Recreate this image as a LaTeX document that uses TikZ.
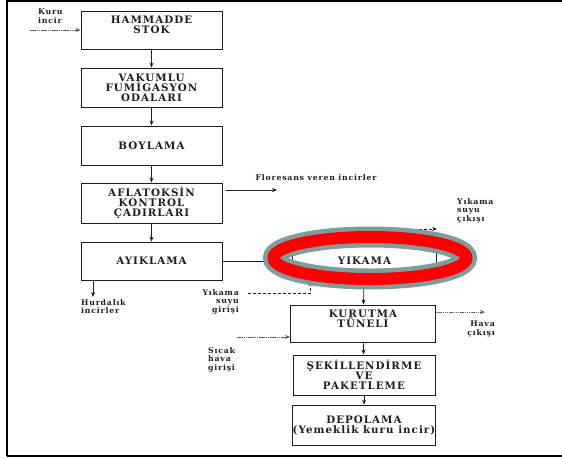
\documentclass[tikz,border=0pt]{standalone}
\usepackage{fontspec}
\newfontfamily\dvs{DejaVu Serif}[LetterSpace=10]
\newfontfamily\dvl{DejaVu Serif}[LetterSpace=10]
\usetikzlibrary{arrows.meta,calc}
\definecolor{ringgray}{RGB}{128,157,157}
\definecolor{ringred}{RGB}{255,0,0}
\definecolor{ink}{RGB}{30,30,30}
\begin{document}
\begin{tikzpicture}[x=1pt,y=-1pt,
  box/.style={draw=ink, line width=0.9pt, inner sep=0pt, align=center, text=ink,
    font=\dvs\bfseries\fontsize{10.3}{10}\selectfont},
  lbl/.style={inner sep=0pt, text=ink, font=\dvl\bfseries\fontsize{7.8}{8.7}\selectfont},
  arr/.style={-{Stealth[length=5pt,width=4pt]}, line width=0.7pt, draw=ink},
  dasharr/.style={arr, dash pattern=on 3pt off 2pt},
  fainarr/.style={-{Stealth[length=5pt,width=4pt]}, line width=0.6pt, draw=ink!70, dash pattern=on 1.5pt off 0.7pt}
]
\useasboundingbox (0,0) rectangle (562,458);
% frame
\draw[line width=2pt] (7.3,456) -- (7.3,1.2) -- (562,1.2);
\draw[line width=2pt] (7.3,456) -- (562,456);

% left column
\node[box, minimum width=141pt, minimum height=38pt] (b1) at (151.5,30) {HAMMADDE\\STOK\\\mbox{}};
\node[box, minimum width=141pt, minimum height=39pt] (b2) at (151.5,87.5) {VAKUMLU\\FUMİGASYON\\ODALARI};
\node[box, minimum width=141pt, minimum height=39pt] (b3) at (151.5,145.5) {BOYLAMA};
\node[box, minimum width=141pt, minimum height=40pt] (b4) at (151.5,203) {AFLATOKSİN\\KONTROL\\ÇADIRLARI};
\node[box, minimum width=141pt, minimum height=38pt] (b5) at (151.5,261) {AYIKLAMA};

% right column
\node[box, minimum width=144pt, minimum height=39pt] (b6) at (364.5,261) {YIKAMA};
\node[box, minimum width=145pt, minimum height=37pt] (b7) at (363,323.5) {KURUTMA\\TÜNELİ\\\mbox{}};
\node[box, minimum width=142pt, minimum height=40pt] (b8) at (364,375) {ŞEKİLLENDİRME\\VE\\PAKETLEME};
\node[box, minimum width=142pt, minimum height=40pt] (b9) at (364,425) {DEPOLAMA\\(Yemeklik kuru incir)};

% labels
\node[lbl, align=left, anchor=north west] (kuru) at (38,8.5) {Kuru\\incir};
\node[lbl] (flo) at (316,178) {Floresans veren incirler};
\node[lbl, align=left, anchor=north west] (cik) at (457,198) {Yıkama\\suyu\\çıkışı};
\node[lbl, align=right, anchor=north east] (gir) at (239,289) {Yıkama\\suyu\\girişi};
\node[lbl, align=left, anchor=north west] (hur) at (81,299) {Hurdalık\\incirler};
\node[lbl, align=right, anchor=north east] (hava) at (495,321) {Hava\\çıkışı};
\node[lbl, align=left, anchor=north west] (sic) at (208,347) {Sıcak\\hava\\girişi};

% coordinates
\coordinate (kin) at (30,30);
\coordinate (fout) at (277,190);
\coordinate (hout) at (93,297);
\coordinate (ycik) at (437,229);
\coordinate (ygir) at (248,293);
\coordinate (hvout) at (485,312);
\coordinate (shin) at (237,337);

% connectors
\draw[fainarr] (kin) -- (b1.west);
\draw[arr] (b1) -- (b2);
\draw[arr] (b2) -- (b3);
\draw[arr] (b3) -- (b4);
\draw[arr] (b4) -- (b5);
\draw[arr] ($(b4.east |- fout)+(4,0)$) -- (fout);
\draw[arr] (hout |- b5.south) -- (hout);
\draw[arr] (b5) -- (b6);
\draw[dasharr] ($(b6.north)+(42,0)$) |- (ycik);
\draw[dasharr] (ygir) -| ($(b6.south)+(-54,0)$);
\draw[arr] (b6) -- (b7);
\draw[fainarr] (b7.east |- hvout) -- (hvout);
\draw[fainarr] (shin) -- (shin -| b7.west);
\draw[arr] (b7) -- (b8);
\draw[arr] (b8) -- (b9);

% highlight ring
\draw[line width=21pt, ringgray] (370,258) ellipse [x radius=96.5pt, y radius=21pt];
\draw[line width=12pt, ringred] (370,258) ellipse [x radius=96.5pt, y radius=21pt];
\end{tikzpicture}
\end{document}
